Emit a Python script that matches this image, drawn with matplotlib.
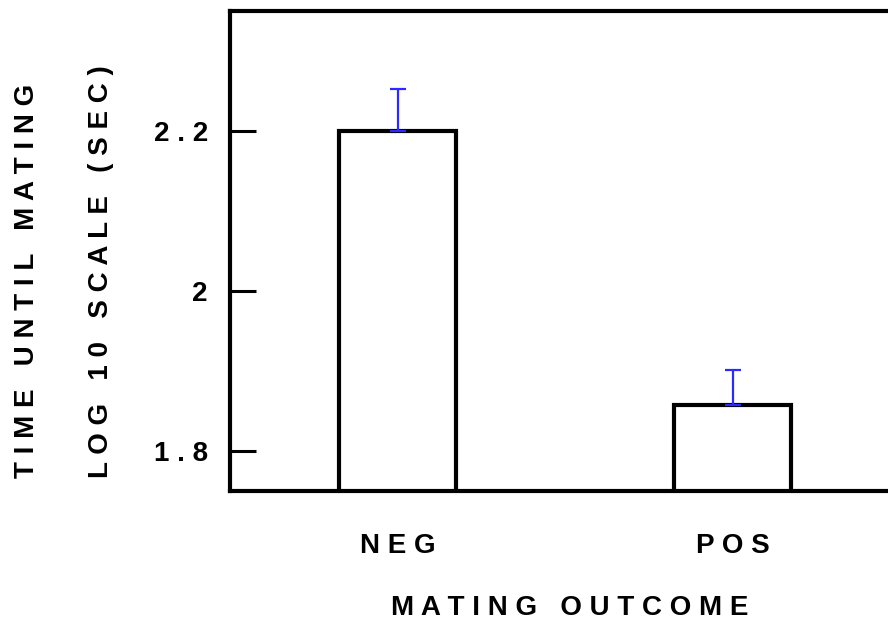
import matplotlib.pyplot as plt

plt.rcParams['font.family'] = ['Liberation Sans', 'DejaVu Sans']
plt.rcParams['font.weight'] = 'bold'

outcomes = ['NEG', 'POS']
log_time = [2.200, 1.857]
err_up = [0.053, 0.044]
y_ticks = [1.8, 2.0, 2.2]
y_tick_labels = ['1 . 8', '2', '2 . 2']


def spaced(s):
    # crude letter spacing: one space between letters, three between words
    return '   '.join(' '.join(w) for w in s.split(' '))


fig = plt.figure(figsize=(8.88, 6.31), dpi=100)
ax = fig.add_axes([230 / 888, 140 / 631, 670 / 888, 480 / 631])

x = range(len(outcomes))
ax.bar(x, log_time, width=0.35, color='white', edgecolor='black', linewidth=3)
ax.errorbar(x, log_time, yerr=[[0, 0], err_up], fmt='none', ecolor='#2a2aff',
            elinewidth=1.6, capsize=6, capthick=1.6)

ax.set_xlim(-0.5, 1.5)
ax.set_ylim(1.75, 2.35)
ax.set_yticks(y_ticks)
ax.set_yticklabels(y_tick_labels)
ax.set_xticks(list(x))
ax.set_xticklabels([spaced(o) for o in outcomes])

ax.tick_params(axis='y', direction='in', length=19, width=2.2, pad=16, labelsize=20)
ax.tick_params(axis='x', length=0, pad=30, labelsize=20)
for sp in ax.spines.values():
    sp.set_linewidth(3)

fig.text(570 / 888, 1 - 608 / 631, spaced('MATING OUTCOME'), ha='center', va='center',
         fontsize=20, fontweight='bold')
fig.text(27 / 888, 1 - 478 / 631, spaced('TIME UNTIL MATING'), rotation=90,
         ha='center', va='bottom', fontsize=20, fontweight='bold')
fig.text(101 / 888, 1 - 478 / 631, spaced('LOG 10 SCALE (SEC)'), rotation=90,
         ha='center', va='bottom', fontsize=20, fontweight='bold')

fig.savefig('out.png', dpi=100)
